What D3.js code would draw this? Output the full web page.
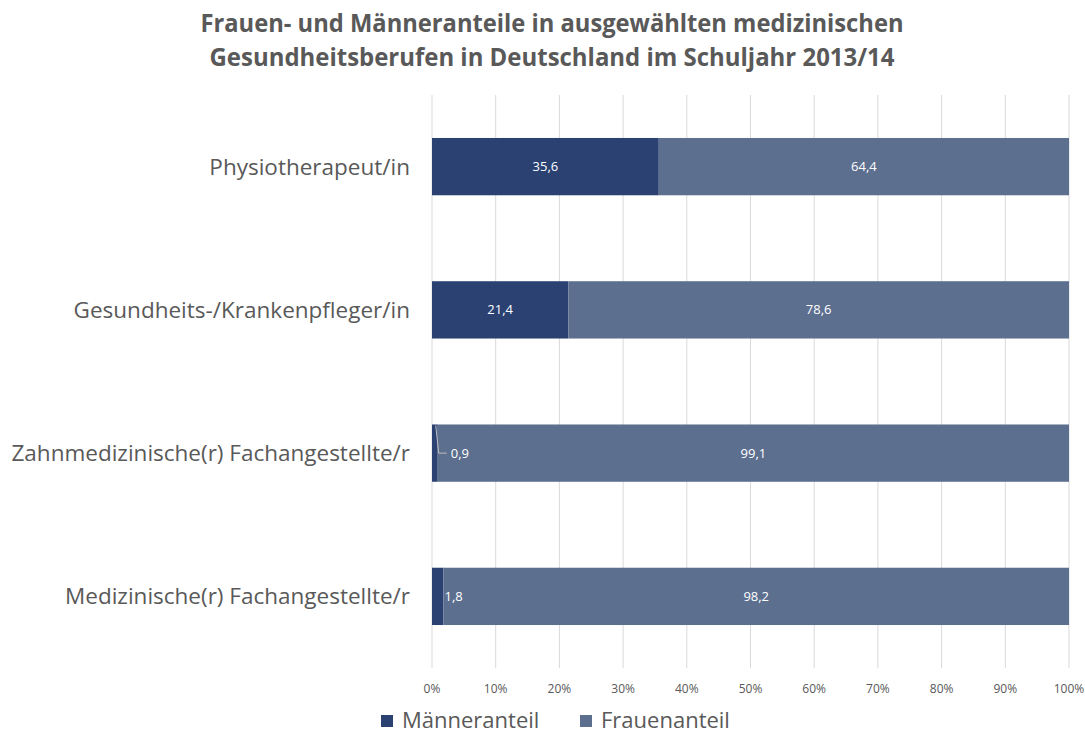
<!DOCTYPE html>
<html>
<head>
<meta charset="utf-8">
<script src="https://cdn.jsdelivr.net/npm/d3@7"></script>
<style>
  body { margin: 0; background: #fff; }
  text { font-family: "Open Sans", "Noto Sans", sans-serif; }
</style>
</head>
<body>
<svg id="chart" width="1085" height="736"></svg>
<script>
// categories, top to bottom
const categories = [
  'Physiotherapeut/in',
  'Gesundheits-/Krankenpfleger/in',
  'Zahnmedizinische(r) Fachangestellte/r',
  'Medizinische(r) Fachangestellte/r'
];
const maennerValues = [35.6, 21.4, 0.9, 1.8];
const frauenValues = [64.4, 78.6, 99.1, 98.2];
const seriesNames = ['Männeranteil', 'Frauenanteil'];
const seriesColors = ['#2a4172', '#5c6f8f'];
const tickValues = [0, 10, 20, 30, 40, 50, 60, 70, 80, 90, 100];

const svg = d3.select('#chart');
const margin = { top: 95, right: 16, bottom: 68, left: 432 };
const width = 1085 - margin.left - margin.right;
const height = 736 - margin.top - margin.bottom;

const x = d3.scaleLinear().domain([0, 100]).range([0, width]);
const y = d3.scaleBand().domain(categories).range([0, height]).paddingInner(0.6).paddingOuter(0.3);

// title
svg.append('text')
  .attr('x', 552).attr('text-anchor', 'middle')
  .attr('fill', '#595959').attr('font-weight', 700).attr('font-size', 25)
  .selectAll('tspan')
  .data(['Frauen- und Männeranteile in ausgewählten medizinischen',
         'Gesundheitsberufen in Deutschland im Schuljahr 2013/14'])
  .join('tspan')
  .attr('x', 552)
  .attr('y', (d, i) => 32 + i * 34)
  .attr('textLength', (d, i) => i === 0 ? 703 : 685)
  .attr('lengthAdjust', 'spacingAndGlyphs')
  .text((d) => d);

const g = svg.append('g').attr('transform', `translate(${margin.left},${margin.top})`);

// gridlines
g.append('g')
  .selectAll('line')
  .data(tickValues)
  .join('line')
  .attr('x1', (d) => x(d)).attr('x2', (d) => x(d))
  .attr('y1', 0).attr('y2', height)
  .attr('stroke', '#d9d9d9').attr('stroke-width', 1);

// tick labels
g.append('g')
  .selectAll('text')
  .data(tickValues)
  .join('text')
  .attr('x', (d) => x(d)).attr('y', height + 25)
  .attr('text-anchor', 'middle')
  .attr('font-size', 12).attr('fill', '#595959')
  .text((d) => `${d}%`);

// category labels
g.append('g')
  .selectAll('text')
  .data(categories)
  .join('text')
  .attr('x', -22)
  .attr('y', (d) => y(d) + y.bandwidth() / 2)
  .attr('dy', '0.35em')
  .attr('text-anchor', 'end')
  .attr('font-size', 22.5).attr('fill', '#595959')
  .text((d) => d);

// stacked data
const rows = categories.map((c, i) => ({ cat: c, m: maennerValues[i], f: frauenValues[i] }));
const stacked = d3.stack().keys(['m', 'f'])(rows);

const fmt = (v) => String(v).replace('.', ',');

stacked.forEach((layer, li) => {
  const lg = g.append('g');
  lg.selectAll('rect')
    .data(layer)
    .join('rect')
    .attr('x', (d) => x(d[0]))
    .attr('y', (d) => y(d.data.cat))
    .attr('width', (d) => x(d[1]) - x(d[0]))
    .attr('height', y.bandwidth())
    .attr('fill', seriesColors[li]);
});

// value labels
const labels = g.append('g').attr('font-size', 13).attr('fill', '#fff');
stacked.forEach((layer, li) => {
  layer.forEach((d) => {
    const v = d[1] - d[0];
    const cy = y(d.data.cat) + y.bandwidth() / 2;
    const w = x(d[1]) - x(d[0]);
    if (w > 30) {
      labels.append('text')
        .attr('x', (x(d[0]) + x(d[1])) / 2).attr('y', cy).attr('dy', '0.35em')
        .attr('text-anchor', 'middle').text(fmt(v));
    } else if (v >= 1) {
      labels.append('text')
        .attr('x', x(d[1]) + 1).attr('y', cy).attr('dy', '0.35em')
        .attr('text-anchor', 'start').text(fmt(v));
    } else {
      // tiny segment: label with leader line
      const top = y(d.data.cat);
      labels.append('path')
        .attr('d', `M${x(d[1]) - 2},${top + 1} L${x(d[1]) + 1},${cy} H${x(d[1]) + 9}`)
        .attr('fill', 'none').attr('stroke', '#bfbfbf').attr('stroke-width', 1);
      labels.append('text')
        .attr('x', x(d[1]) + 13).attr('y', cy).attr('dy', '0.35em')
        .attr('text-anchor', 'start').text(fmt(v));
    }
  });
});

// legend
const legend = svg.append('g').attr('transform', 'translate(381,720)');
const legendX = [0, 199];
seriesNames.forEach((name, i) => {
  const item = legend.append('g').attr('transform', `translate(${legendX[i]},0)`);
  item.append('rect').attr('x', 0).attr('y', -5).attr('width', 12).attr('height', 12)
    .attr('fill', seriesColors[i]);
  item.append('text').attr('x', 21).attr('y', 0).attr('dy', '0.35em')
    .attr('font-size', 22).attr('fill', '#595959').text(name);
});
</script>
</body>
</html>
